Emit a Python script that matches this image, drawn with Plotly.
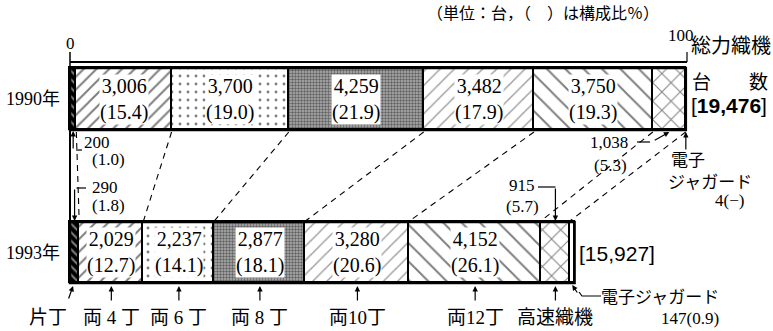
import plotly.graph_objects as go

# ---- data -------------------------------------------------------------
categories = ["片丁", "両4丁", "両6丁", "両8丁", "両10丁", "両12丁", "高速織機", "電子ジャガード"]
axis_labels = ["片丁", "両 4 丁", "両 6 丁", "両 8 丁", "両10丁", "両12丁", "高速織機"]
years = ["1990年", "1993年"]
units_1990 = [200, 3006, 3700, 4259, 3482, 3750, 1038, 4]
units_1993 = [290, 2029, 2237, 2877, 3280, 4152, 915, 147]
share_1990 = ["1.0", "15.4", "19.0", "21.9", "17.9", "19.3", "5.3", "−"]
share_1993 = ["1.8", "12.7", "14.1", "18.1", "20.6", "26.1", "5.7", "0.9"]
total_1990 = 19476
total_1993 = 15927
scale_ticks = ["0", "100"]

# ---- layout constants -------------------------------------------------
W, H = 773, 331
X0_PX, X100_PX = 70, 687            # where 0 % and 100 % of the 1990 total sit
PX_PER_UNIT = (X100_PX - X0_PX) / total_1990
BAR_Y = [99, 252.5]                 # bar centres (y axis runs in screen pixels)
BAR_H = [62, 61]
AXIS_Y = 62

SERIF = "Liberation Serif, Noto Sans CJK JP, serif"
SANS = "Liberation Sans, Noto Sans CJK JP, sans-serif"

patterns = [
    dict(shape="\\", size=6, solidity=0.35, fgcolor="white", bgcolor="black"),
    dict(shape="/", size=9, solidity=0.22, fgcolor="black", bgcolor="white"),
    dict(shape=".", size=8, solidity=0.1, fgcolor="black", bgcolor="white"),
    dict(shape=".", size=3, solidity=0.5, fgcolor="#111111", bgcolor="#b0b0b0"),
    dict(shape="/", size=10, solidity=0.15, fgcolor="#444444", bgcolor="white"),
    dict(shape="\\", size=13, solidity=0.15, fgcolor="black", bgcolor="white"),
    dict(shape="x", size=13, solidity=0.15, fgcolor="black", bgcolor="white"),
    dict(shape="", fgcolor="black", bgcolor="white"),
]


def cumulative(vals):
    out, s = [], 0
    for v in vals:
        s += v
        out.append(s)
    return out


cum_1990 = cumulative(units_1990)
cum_1993 = cumulative(units_1993)
mid_1990 = [c - v / 2 for c, v in zip(cum_1990, units_1990)]
mid_1993 = [c - v / 2 for c, v in zip(cum_1993, units_1993)]


def px_to_x(px):
    return (px - X0_PX) / PX_PER_UNIT


fig = go.Figure()

# ---- stacked bars -----------------------------------------------------
for i, cat in enumerate(categories):
    fig.add_trace(go.Bar(
        name=cat,
        orientation="h",
        y=BAR_Y,
        x=[units_1990[i], units_1993[i]],
        width=BAR_H,
        marker=dict(color="white", line=dict(color="black", width=1.8),
                    pattern=patterns[i]),
        hoverinfo="skip",
    ))

shapes = []
annotations = []

# outer frames of both bars
for yc, h, total in zip(BAR_Y, BAR_H, [cum_1990[-1], cum_1993[-1]]):
    shapes.append(dict(type="rect", xref="x", yref="y", x0=0, x1=total,
                       y0=yc - h / 2, y1=yc + h / 2,
                       line=dict(color="black", width=2.5)))

# percentage scale on top
shapes.append(dict(type="line", xref="x", yref="y", x0=0, x1=total_1990,
                   y0=AXIS_Y, y1=AXIS_Y, line=dict(color="black", width=2)))
shapes.append(dict(type="line", xref="x", yref="y", x0=0, x1=0,
                   y0=52, y1=BAR_Y[0] - BAR_H[0] / 2, line=dict(color="black", width=1.5)))
shapes.append(dict(type="line", xref="x", yref="y", x0=total_1990, x1=total_1990,
                   y0=52, y1=AXIS_Y, line=dict(color="black", width=1.2)))
annotations.append(dict(xref="x", yref="y", x=0, y=43, text=scale_ticks[0],
                        showarrow=False, font=dict(family=SERIF, size=17)))
annotations.append(dict(xref="x", yref="y", x=total_1990 - 6 / PX_PER_UNIT, y=35,
                        text=scale_ticks[1], showarrow=False,
                        font=dict(family=SERIF, size=17)))

# left edge joining the two bars
bot_1990 = BAR_Y[0] + BAR_H[0] / 2
top_1993 = BAR_Y[1] - BAR_H[1] / 2
shapes.append(dict(type="line", xref="x", yref="y", x0=0, x1=0,
                   y0=bot_1990, y1=top_1993, line=dict(color="black", width=2)))

# dashed links between matching segment boundaries
for c0, c1 in zip(cum_1990[:7], cum_1993[:7]):
    shapes.append(dict(type="line", xref="x", yref="y", x0=c0, x1=c1,
                       y0=bot_1990 + 2, y1=top_1993 - 1,
                       line=dict(color="black", width=1.1, dash="6px,5px")))

# value labels inside the wider segments
for i in range(1, 6):
    for yc, mids, vals, shares in [(BAR_Y[0], mid_1990, units_1990, share_1990),
                                   (BAR_Y[1], mid_1993, units_1993, share_1993)]:
        annotations.append(dict(
            xref="x", yref="y", x=mids[i], y=yc,
            text=f"{vals[i]:,}<br>({shares[i]})", showarrow=False,
            font=dict(family=SERIF, size=20, color="black"),
            bgcolor="white", borderpad=0,
        ))

# year labels
for yc, yr in zip(BAR_Y, years):
    annotations.append(dict(xref="x", yref="y", x=px_to_x(33), y=yc, text=yr,
                            showarrow=False, font=dict(family=SERIF, size=18)))


def label(px, py, text, size=17, family=SERIF, **kw):
    annotations.append(dict(xref="x", yref="y", x=px_to_x(px), y=py, text=text,
                            showarrow=False, font=dict(family=family, size=size,
                                                       color="black"), **kw))


def arrow(x, y, ax, ay):
    annotations.append(dict(xref="x", yref="y", x=x, y=y, ax=ax, ay=ay, text="",
                            showarrow=True, arrowhead=2, arrowsize=0.9,
                            arrowwidth=1.2, arrowcolor="black"))


def path(points, dash=None):
    d = "M " + " L ".join(f"{px_to_x(px)},{py}" for px, py in points)
    shapes.append(dict(type="path", xref="x", yref="y", path=d,
                       line=dict(color="black", width=1.2, dash=dash)))


# unit note and totals
label(543, 13, "（単位：台，（　）は構成比％）", size=16)
label(731, 46, "総力織機", size=20)
label(730, 82, "台　　数", size=19)
label(729, 105, f"[<b>{total_1990:,}</b>]", size=21, family=SANS)
label(617, 253, f"[{total_1993:,}]", size=21, family=SANS)

# 片丁 callouts
arrow(mid_1990[0], bot_1990 + 1, 0, 19)
path([(76, bot_1990 + 20), (82, bot_1990 + 20)])
label(97, 142, f"{units_1990[0]}")
label(108, 159, f"({share_1990[0]})")
path([(86, 188), (76.5, 188)])
arrow(mid_1993[0], top_1993 - 1, 0, -33)
label(105, 187, f"{units_1993[0]}")
label(108, 205, f"({share_1993[0]})")

# 高速織機 1990 callout
arrow(mid_1990[6], bot_1990 + 2, -16, 9)
path([(637, 142), (650, 142)])
label(609, 142, f"{units_1990[6]:,}")
label(610, 165, f"({share_1990[6]})")

# 電子ジャガード 1990 callout
arrow(cum_1990[-1], bot_1990 + 2, 0, 19)
label(688, 160, "電子", size=17)
label(710, 182, "ジャガード", size=17)
label(729, 200, f"{units_1990[7]}({share_1990[7]})", size=17)

# 高速織機 1993 callout
arrow(mid_1993[6], top_1993 - 1, 0, -34)
path([(538, 187), (555.5, 187)])
label(522, 185, f"{units_1993[6]}")
label(522, 206, f"({share_1993[6]})")

# 電子ジャガード 1993 callout
bot_1993 = BAR_Y[1] + BAR_H[1] / 2
arrow(mid_1993[7], bot_1993 + 2, 6, 9)
path([(579, 292), (582, 296), (601, 296)])
label(660, 297, "電子ジャガード", size=17)
label(690, 318, f"{units_1993[7]}({share_1993[7]})", size=17)

# category captions under the 1993 bar
for i, txt in enumerate(axis_labels):
    if i == 0:
        arrow(mid_1993[0] - 1.5 / PX_PER_UNIT, bot_1993 + 3, -5, 14)
        annotations.append(dict(xref="x", yref="y", x=px_to_x(48), y=317, text=txt,
                                showarrow=False, font=dict(family=SERIF, size=19)))
    else:
        arrow(mid_1993[i], bot_1993 + 3, 0, 16)
        annotations.append(dict(xref="x", yref="y", x=mid_1993[i], y=317, text=txt,
                                showarrow=False, font=dict(family=SERIF, size=19)))

fig.update_layout(
    width=W, height=H,
    margin=dict(l=0, r=0, t=0, b=0),
    paper_bgcolor="white", plot_bgcolor="white",
    font=dict(color="black", family=SERIF),
    barmode="stack", bargap=0, showlegend=False,
    xaxis=dict(range=[px_to_x(0), px_to_x(W)], visible=False, fixedrange=True),
    yaxis=dict(range=[H, 0], visible=False, fixedrange=True),
    shapes=shapes, annotations=annotations,
)

fig.write_html("out.html")
